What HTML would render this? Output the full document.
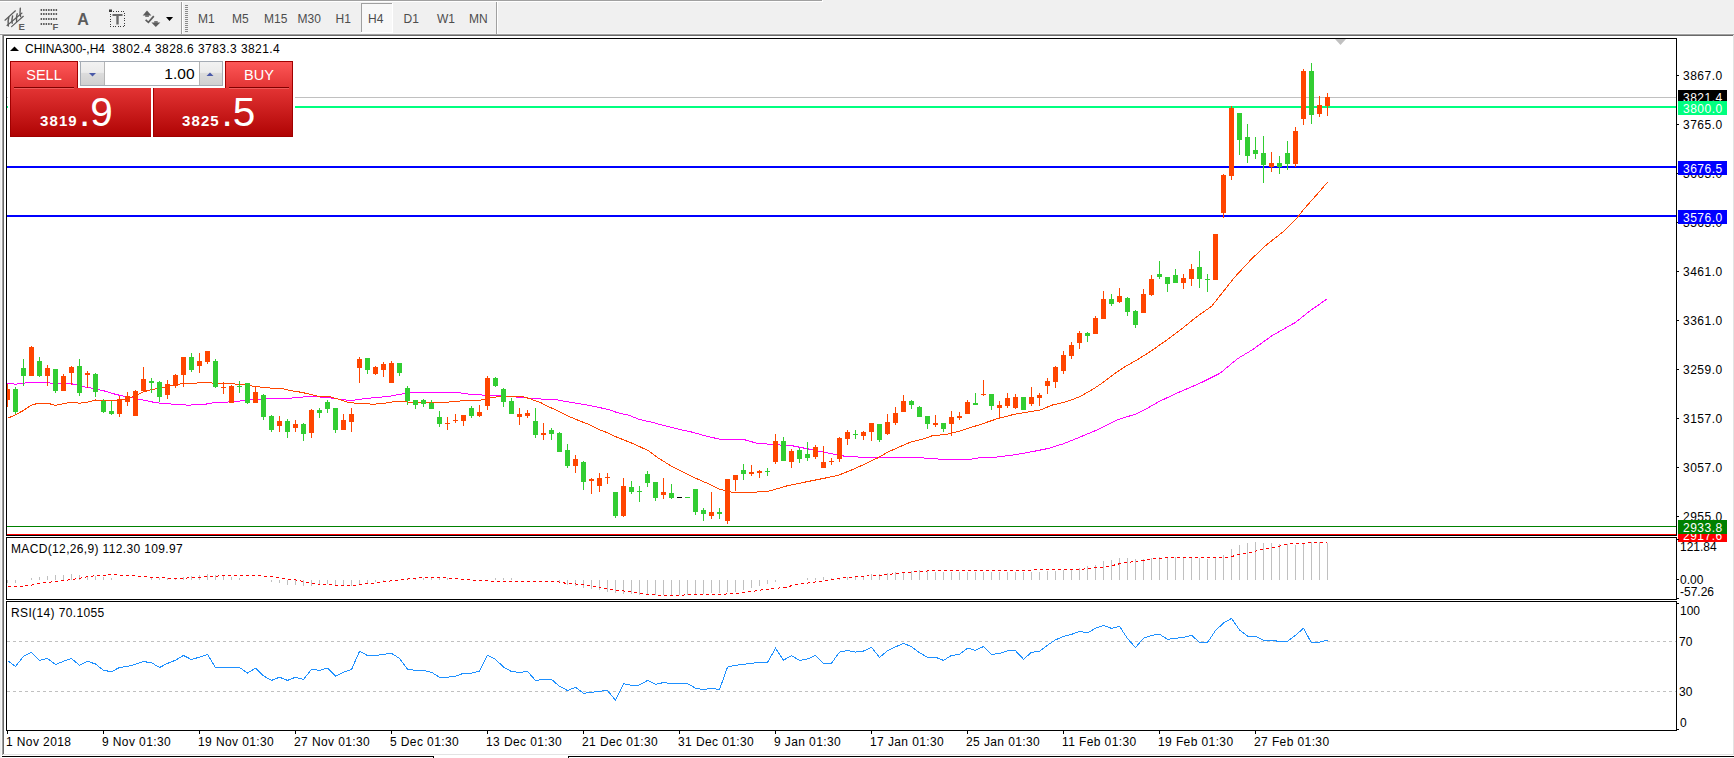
<!DOCTYPE html>
<html><head><meta charset="utf-8"><title>CHINA300 H4</title>
<style>html,body{margin:0;padding:0;width:1734px;height:758px;overflow:hidden;background:#f0f0f0;font-family:"Liberation Sans",sans-serif;}</style>
</head><body>
<svg width="1734" height="758" viewBox="0 0 1734 758" style="display:block"><rect x="0" y="0" width="1734" height="34" fill="#f0f0f0" />
<rect x="0" y="0" width="822" height="1" fill="#a0a0a0" />
<rect x="0" y="1" width="823" height="1" fill="#ffffff" />
<rect x="822" y="0" width="1" height="1" fill="#ffffff" />
<rect x="0" y="33" width="1734" height="1" fill="#f7f7f7" />
<rect x="0" y="34" width="1734" height="1" fill="#a0a0a0" />
<rect x="2" y="35" width="1731" height="1" fill="#696969" />
<rect x="181" y="2" width="1" height="32" fill="#a0a0a0" />
<rect x="182" y="2" width="1" height="32" fill="#ffffff" />
<rect x="496" y="2" width="1" height="32" fill="#a0a0a0" />
<rect x="497" y="2" width="1" height="32" fill="#ffffff" />
<rect x="185" y="5" width="3" height="1" fill="#8a8a8a" />
<rect x="185" y="7" width="3" height="1" fill="#8a8a8a" />
<rect x="185" y="9" width="3" height="1" fill="#8a8a8a" />
<rect x="185" y="11" width="3" height="1" fill="#8a8a8a" />
<rect x="185" y="13" width="3" height="1" fill="#8a8a8a" />
<rect x="185" y="15" width="3" height="1" fill="#8a8a8a" />
<rect x="185" y="17" width="3" height="1" fill="#8a8a8a" />
<rect x="185" y="19" width="3" height="1" fill="#8a8a8a" />
<rect x="185" y="21" width="3" height="1" fill="#8a8a8a" />
<rect x="185" y="23" width="3" height="1" fill="#8a8a8a" />
<rect x="185" y="25" width="3" height="1" fill="#8a8a8a" />
<rect x="185" y="27" width="3" height="1" fill="#8a8a8a" />
<rect x="185" y="29" width="3" height="1" fill="#8a8a8a" />
<rect x="185" y="31" width="3" height="1" fill="#8a8a8a" />
<rect x="361" y="3" width="31" height="29" fill="#f8f8f8" />
<rect x="361" y="3" width="31" height="1" fill="#a0a0a0" />
<rect x="361" y="3" width="1" height="29" fill="#a0a0a0" />
<rect x="392" y="3" width="1" height="30" fill="#ffffff" />
<rect x="361" y="32" width="32" height="1" fill="#ffffff" />
<text x="198" y="23" font-family="Liberation Sans, sans-serif" font-size="12" fill="#4d4d4d">M1</text>
<text x="232" y="23" font-family="Liberation Sans, sans-serif" font-size="12" fill="#4d4d4d">M5</text>
<text x="264" y="23" font-family="Liberation Sans, sans-serif" font-size="12" fill="#4d4d4d">M15</text>
<text x="297.5" y="23" font-family="Liberation Sans, sans-serif" font-size="12" fill="#4d4d4d">M30</text>
<text x="335.5" y="23" font-family="Liberation Sans, sans-serif" font-size="12" fill="#4d4d4d">H1</text>
<text x="368" y="23" font-family="Liberation Sans, sans-serif" font-size="12" fill="#4d4d4d">H4</text>
<text x="403.5" y="23" font-family="Liberation Sans, sans-serif" font-size="12" fill="#4d4d4d">D1</text>
<text x="437" y="23" font-family="Liberation Sans, sans-serif" font-size="12" fill="#4d4d4d">W1</text>
<text x="469" y="23" font-family="Liberation Sans, sans-serif" font-size="12" fill="#4d4d4d">MN</text>
<g stroke="#5c5c5c" fill="none" shape-rendering="auto" stroke-linecap="round"><path d="M5 20.2 L15.4 10.8" stroke-width="1.2"/><path d="M11.6 26.6 L23.3 16.3" stroke-width="1.2"/><path d="M7 25.5 L22 13" stroke-width="1.1"/><path d="M8.8 17.2 Q7.6 21 8.3 26" stroke-width="1.4"/><path d="M12.6 16 Q11.5 20 12.2 23.2" stroke-width="1.4"/><path d="M17.2 13.8 Q16 17 16.6 21.5" stroke-width="1.4"/><path d="M20.3 8.3 Q19.6 13 20.6 16.6" stroke-width="1.4"/></g>
<text x="18.6" y="29.8" font-family="Liberation Sans, sans-serif" font-size="9.5" font-weight="bold" fill="#5c5c5c">E</text>
<rect x="40.6" y="9" width="1.5" height="2" fill="#5a5a5a"/>
<rect x="43.1" y="9" width="1.5" height="2" fill="#5a5a5a"/>
<rect x="45.6" y="9" width="1.5" height="2" fill="#5a5a5a"/>
<rect x="48.1" y="9" width="1.5" height="2" fill="#5a5a5a"/>
<rect x="50.6" y="9" width="1.5" height="2" fill="#5a5a5a"/>
<rect x="53.1" y="9" width="1.5" height="2" fill="#5a5a5a"/>
<rect x="55.6" y="9" width="1.5" height="2" fill="#5a5a5a"/>
<rect x="40.6" y="13" width="1.5" height="2" fill="#5a5a5a"/>
<rect x="43.1" y="13" width="1.5" height="2" fill="#5a5a5a"/>
<rect x="45.6" y="13" width="1.5" height="2" fill="#5a5a5a"/>
<rect x="48.1" y="13" width="1.5" height="2" fill="#5a5a5a"/>
<rect x="50.6" y="13" width="1.5" height="2" fill="#5a5a5a"/>
<rect x="53.1" y="13" width="1.5" height="2" fill="#5a5a5a"/>
<rect x="55.6" y="13" width="1.5" height="2" fill="#5a5a5a"/>
<rect x="40.6" y="18" width="1.5" height="2" fill="#5a5a5a"/>
<rect x="43.1" y="18" width="1.5" height="2" fill="#5a5a5a"/>
<rect x="45.6" y="18" width="1.5" height="2" fill="#5a5a5a"/>
<rect x="48.1" y="18" width="1.5" height="2" fill="#5a5a5a"/>
<rect x="50.6" y="18" width="1.5" height="2" fill="#5a5a5a"/>
<rect x="53.1" y="18" width="1.5" height="2" fill="#5a5a5a"/>
<rect x="55.6" y="18" width="1.5" height="2" fill="#5a5a5a"/>
<rect x="40.6" y="23" width="1.5" height="2" fill="#5a5a5a"/>
<rect x="43.1" y="23" width="1.5" height="2" fill="#5a5a5a"/>
<rect x="45.6" y="23" width="1.5" height="2" fill="#5a5a5a"/>
<rect x="48.1" y="23" width="1.5" height="2" fill="#5a5a5a"/>
<rect x="50.6" y="23" width="1.5" height="2" fill="#5a5a5a"/>
<text x="52.6" y="29.8" font-family="Liberation Sans, sans-serif" font-size="9.5" font-weight="bold" fill="#5c5c5c">F</text>
<text x="77.3" y="25" font-family="Liberation Sans, sans-serif" font-size="16" font-weight="bold" fill="#5c5c5c">A</text>
<rect x="110.5" y="11.5" width="14" height="15" fill="none" stroke="#3a3a3a" stroke-dasharray="1 1.5" shape-rendering="crispEdges"/>
<rect x="109" y="9.5" width="3" height="2.5" fill="#3a3a3a"/>
<rect x="112.5" y="14" width="10" height="2" fill="#6a6a6a"/>
<rect x="116.3" y="15.5" width="2.4" height="9" fill="#6a6a6a"/>
<path d="M142.7 15.5 L147 10.4 L151.4 15.5 Z" fill="#5c5c5c"/><rect x="145.2" y="15.3" width="3.7" height="1.5" fill="#5c5c5c"/>
<path d="M151.4 22.5 L160.3 22.5 L155.8 26.9 Z" fill="#5c5c5c"/><rect x="154.2" y="21.2" width="3.5" height="1.5" fill="#5c5c5c"/>
<path d="M145.6 19.9 L148.4 22.4 L153.8 16.1" stroke="#5c5c5c" stroke-width="1.7" fill="none"/>
<path d="M166 17.1 L173.1 17.1 L169.5 20.9 Z" fill="#000"/>
<rect x="0" y="35" width="1734" height="723" fill="#f0f0f0" />
<rect x="2" y="35" width="1731" height="1" fill="#696969" />
<rect x="1" y="35" width="1" height="723" fill="#f9f9f9" />
<rect x="2" y="34" width="1" height="721" fill="#a0a0a0" />
<rect x="3" y="35" width="1" height="719" fill="#696969" />
<rect x="4" y="36" width="1729" height="718" fill="#ffffff" />
<rect x="1733" y="35" width="1" height="720" fill="#e3e3e3" />
<rect x="3" y="754" width="1731" height="1" fill="#e3e3e3" />
<rect x="2" y="755" width="1732" height="3" fill="#ffffff" />
<rect x="2" y="756" width="432" height="1" fill="#000000" />
<rect x="433" y="756" width="1" height="2" fill="#000000" />
<rect x="568" y="756" width="1166" height="1" fill="#000000" />
<rect x="568" y="756" width="1" height="2" fill="#000000" />
<rect x="6" y="38" width="1671" height="1" fill="#000" />
<rect x="6" y="535" width="1671" height="1" fill="#000" />
<rect x="6" y="38" width="1" height="498" fill="#000" />
<rect x="1676" y="38" width="1" height="498" fill="#000" />
<rect x="6" y="537" width="1671" height="1" fill="#000" />
<rect x="6" y="599" width="1671" height="1" fill="#000" />
<rect x="6" y="537" width="1" height="63" fill="#000" />
<rect x="1676" y="537" width="1" height="63" fill="#000" />
<rect x="6" y="601" width="1671" height="1" fill="#000" />
<rect x="6" y="730" width="1671" height="1" fill="#000" />
<rect x="6" y="601" width="1" height="130" fill="#000" />
<rect x="1676" y="601" width="1" height="130" fill="#000" />
<rect x="7" y="97" width="1669" height="1" fill="#c0c0c0" />
<rect x="7" y="106" width="1669" height="2" fill="#00ff7f" />
<rect x="7" y="166" width="1669" height="2" fill="#0000ff" />
<rect x="7" y="215" width="1669" height="2" fill="#0000ff" />
<rect x="7" y="526" width="1669" height="1" fill="#008000" />
<rect x="7" y="534" width="1669" height="1" fill="#ff0000" />
<path d="M1335 39 L1346 39 L1340.5 45 Z" fill="#c0c0c0"/>
<g shape-rendering="crispEdges">
<polyline points="7.5,383.3 15.5,384.2 23.5,383.3 29.5,382.3 43.5,382.6 55.5,383.3 72.5,384.0 79.5,385.6 87.0,387.4 95.5,388.8 104.5,391.0 115.5,394.3 124.5,396.4 133.1,397.9 144.5,400.3 156.2,402.8 166.5,403.7 187.5,405.1 202.5,404.7 213.5,402.8 231.5,401.8 240.5,401.0 252.0,399.3 275.1,398.8 291.0,398.1 309.5,396.4 327.0,397.4 341.5,399.6 351.5,400.6 363.0,398.8 377.5,397.4 389.0,396.3 399.1,394.5 407.5,393.1 420.5,392.4 456.5,392.4 471.2,394.5 485.5,395.2 500.2,395.9 516.9,397.1 541.2,399.0 556.3,399.7 565.5,401.4 577.5,403.5 589.7,405.5 609.5,409.7 617.0,412.6 629.2,415.3 639.8,419.6 651.9,422.2 662.5,425.2 677.7,429.0 692.9,432.3 708.0,436.6 723.2,439.9 730.5,439.2 745.5,440.0 756.0,443.0 772.5,444.5 793.5,446.0 808.5,449.0 826.5,452.7 844.5,456.2 861.0,457.2 880.5,457.2 923.9,458.0 940.5,459.2 970.5,459.2 979.5,457.7 993.5,457.4 1013.5,454.9 1030.0,452.1 1048.1,448.5 1063.0,443.9 1079.5,437.3 1099.2,429.0 1119.0,419.2 1135.5,414.2 1145.5,409.3 1158.5,401.8 1178.5,392.4 1199.8,383.3 1220.1,373.2 1237.5,358.7 1252.0,350.0 1272.3,335.5 1295.5,322.4 1310.1,310.8 1327.5,298.6" fill="none" stroke="#ff00ff" stroke-width="1" />
<polyline points="7.5,418.4 15.5,414.8 23.5,410.4 31.5,405.1 38.5,403.2 47.5,403.2 55.5,405.4 63.5,403.6 71.5,402.2 79.5,403.2 87.5,402.2 95.5,400.0 103.5,400.8 111.5,401.0 120.0,399.6 128.0,398.9 136.0,395.3 144.0,391.7 152.0,389.5 160.0,388.0 168.0,386.6 176.0,384.5 183.5,383.5 192.5,383.5 203.5,382.3 211.5,383.0 219.5,383.5 231.5,383.8 240.5,384.4 256.5,386.6 269.5,388.0 282.5,388.5 290.5,390.6 299.5,392.0 308.5,393.8 318.5,396.4 329.5,396.7 340.0,399.6 350.1,402.9 361.5,403.2 373.1,404.3 384.5,403.2 396.2,401.4 407.5,402.0 420.5,402.5 442.5,402.5 452.5,401.7 468.5,400.3 480.5,400.2 489.5,397.9 500.2,396.4 521.5,396.4 529.0,398.4 541.2,402.9 550.3,407.5 560.9,412.3 570.0,416.9 579.1,420.7 589.7,424.8 600.3,430.2 607.9,432.8 617.0,437.3 626.1,440.8 635.2,444.5 648.9,451.0 658.0,457.8 670.1,465.4 682.3,471.5 694.4,477.6 708.0,483.6 720.2,489.7 726.3,490.4 732.3,492.4 754.5,492.2 769.5,491.0 787.5,485.7 805.5,482.0 828.0,477.5 838.5,475.2 853.5,469.2 865.5,463.7 877.5,458.0 887.9,452.0 899.9,446.7 910.5,442.2 922.5,439.2 932.9,435.5 944.9,434.7 959.9,431.0 976.5,425.7 980.5,424.4 997.0,418.8 1013.5,414.5 1030.0,411.7 1039.9,410.1 1053.1,404.8 1064.5,402.3 1079.5,396.9 1092.5,389.5 1102.5,382.9 1115.5,373.0 1125.5,366.4 1137.2,359.8 1150.5,351.4 1165.0,341.3 1182.5,328.2 1196.9,316.6 1211.5,306.4 1223.0,291.9 1234.5,277.4 1252.0,258.5 1266.5,244.9 1284.0,231.0 1297.0,217.9 1304.0,209.0 1312.0,200.0 1320.0,191.0 1327.5,182.2" fill="none" stroke="#ff4500" stroke-width="1" />
</g>
<g shape-rendering="crispEdges">
<rect x="7" y="384" width="1" height="23" fill="#ff4500" />
<rect x="7" y="389" width="3" height="11" fill="#ff4500" />
<rect x="15" y="387" width="1" height="27" fill="#32cd32" />
<rect x="13" y="389" width="5" height="23" fill="#32cd32" />
<rect x="23" y="359" width="1" height="27" fill="#32cd32" />
<rect x="21" y="368" width="5" height="8" fill="#32cd32" />
<rect x="31" y="346" width="1" height="30" fill="#ff4500" />
<rect x="29" y="347" width="5" height="29" fill="#ff4500" />
<rect x="39" y="357" width="1" height="20" fill="#32cd32" />
<rect x="37" y="361" width="5" height="15" fill="#32cd32" />
<rect x="47" y="365" width="1" height="21" fill="#ff4500" />
<rect x="45" y="368" width="5" height="8" fill="#ff4500" />
<rect x="55" y="369" width="1" height="24" fill="#32cd32" />
<rect x="53" y="369" width="5" height="22" fill="#32cd32" />
<rect x="63" y="374" width="1" height="17" fill="#ff4500" />
<rect x="61" y="376" width="5" height="15" fill="#ff4500" />
<rect x="71" y="366" width="1" height="19" fill="#ff4500" />
<rect x="69" y="367" width="5" height="6" fill="#ff4500" />
<rect x="79" y="359" width="1" height="37" fill="#32cd32" />
<rect x="77" y="366" width="5" height="27" fill="#32cd32" />
<rect x="87" y="371" width="1" height="17" fill="#ff4500" />
<rect x="85" y="373" width="5" height="2" fill="#ff4500" />
<rect x="95" y="373" width="1" height="24" fill="#32cd32" />
<rect x="93" y="374" width="5" height="18" fill="#32cd32" />
<rect x="103" y="399" width="1" height="14" fill="#32cd32" />
<rect x="101" y="401" width="5" height="11" fill="#32cd32" />
<rect x="111" y="401" width="1" height="14" fill="#32cd32" />
<rect x="109" y="411" width="5" height="3" fill="#32cd32" />
<rect x="119" y="396" width="1" height="21" fill="#ff4500" />
<rect x="117" y="400" width="5" height="14" fill="#ff4500" />
<rect x="127" y="392" width="1" height="14" fill="#ff4500" />
<rect x="125" y="396" width="5" height="6" fill="#ff4500" />
<rect x="135" y="390" width="1" height="26" fill="#ff4500" />
<rect x="133" y="391" width="5" height="25" fill="#ff4500" />
<rect x="143" y="367" width="1" height="24" fill="#ff4500" />
<rect x="141" y="379" width="5" height="12" fill="#ff4500" />
<rect x="151" y="378" width="1" height="15" fill="#32cd32" />
<rect x="149" y="381" width="5" height="2" fill="#32cd32" />
<rect x="159" y="381" width="1" height="21" fill="#32cd32" />
<rect x="157" y="382" width="5" height="15" fill="#32cd32" />
<rect x="167" y="380" width="1" height="19" fill="#ff4500" />
<rect x="165" y="384" width="5" height="11" fill="#ff4500" />
<rect x="175" y="374" width="1" height="14" fill="#ff4500" />
<rect x="173" y="375" width="5" height="11" fill="#ff4500" />
<rect x="183" y="357" width="1" height="30" fill="#ff4500" />
<rect x="181" y="357" width="5" height="18" fill="#ff4500" />
<rect x="191" y="353" width="1" height="19" fill="#32cd32" />
<rect x="189" y="357" width="5" height="13" fill="#32cd32" />
<rect x="199" y="353" width="1" height="20" fill="#ff4500" />
<rect x="197" y="361" width="5" height="5" fill="#ff4500" />
<rect x="207" y="351" width="1" height="13" fill="#ff4500" />
<rect x="205" y="351" width="5" height="11" fill="#ff4500" />
<rect x="215" y="359" width="1" height="29" fill="#32cd32" />
<rect x="213" y="361" width="5" height="26" fill="#32cd32" />
<rect x="223" y="382" width="1" height="12" fill="#ff4500" />
<rect x="221" y="387" width="5" height="1" fill="#ff4500" />
<rect x="231" y="385" width="1" height="18" fill="#ff4500" />
<rect x="229" y="386" width="5" height="17" fill="#ff4500" />
<rect x="239" y="381" width="1" height="12" fill="#32cd32" />
<rect x="237" y="386" width="5" height="1" fill="#32cd32" />
<rect x="247" y="383" width="1" height="21" fill="#32cd32" />
<rect x="245" y="383" width="5" height="20" fill="#32cd32" />
<rect x="255" y="386" width="1" height="17" fill="#ff4500" />
<rect x="253" y="392" width="5" height="11" fill="#ff4500" />
<rect x="263" y="394" width="1" height="26" fill="#32cd32" />
<rect x="261" y="395" width="5" height="22" fill="#32cd32" />
<rect x="271" y="415" width="1" height="17" fill="#32cd32" />
<rect x="269" y="416" width="5" height="14" fill="#32cd32" />
<rect x="279" y="416" width="1" height="16" fill="#ff4500" />
<rect x="277" y="421" width="5" height="5" fill="#ff4500" />
<rect x="287" y="419" width="1" height="19" fill="#32cd32" />
<rect x="285" y="421" width="5" height="11" fill="#32cd32" />
<rect x="295" y="420" width="1" height="12" fill="#ff4500" />
<rect x="293" y="424" width="5" height="4" fill="#ff4500" />
<rect x="303" y="423" width="1" height="18" fill="#32cd32" />
<rect x="301" y="424" width="5" height="10" fill="#32cd32" />
<rect x="311" y="409" width="1" height="29" fill="#ff4500" />
<rect x="309" y="410" width="5" height="23" fill="#ff4500" />
<rect x="319" y="408" width="1" height="10" fill="#32cd32" />
<rect x="317" y="410" width="5" height="3" fill="#32cd32" />
<rect x="327" y="400" width="1" height="13" fill="#32cd32" />
<rect x="325" y="402" width="5" height="7" fill="#32cd32" />
<rect x="335" y="408" width="1" height="25" fill="#32cd32" />
<rect x="333" y="408" width="5" height="22" fill="#32cd32" />
<rect x="343" y="414" width="1" height="16" fill="#ff4500" />
<rect x="341" y="420" width="5" height="10" fill="#ff4500" />
<rect x="351" y="408" width="1" height="24" fill="#ff4500" />
<rect x="349" y="414" width="5" height="8" fill="#ff4500" />
<rect x="359" y="357" width="1" height="26" fill="#ff4500" />
<rect x="357" y="359" width="5" height="9" fill="#ff4500" />
<rect x="367" y="358" width="1" height="16" fill="#32cd32" />
<rect x="365" y="358" width="5" height="12" fill="#32cd32" />
<rect x="375" y="366" width="1" height="9" fill="#ff4500" />
<rect x="373" y="367" width="5" height="7" fill="#ff4500" />
<rect x="383" y="362" width="1" height="15" fill="#ff4500" />
<rect x="381" y="364" width="5" height="6" fill="#ff4500" />
<rect x="391" y="361" width="1" height="22" fill="#ff4500" />
<rect x="389" y="363" width="5" height="20" fill="#ff4500" />
<rect x="399" y="363" width="1" height="13" fill="#32cd32" />
<rect x="397" y="363" width="5" height="10" fill="#32cd32" />
<rect x="407" y="386" width="1" height="19" fill="#32cd32" />
<rect x="405" y="388" width="5" height="13" fill="#32cd32" />
<rect x="415" y="400" width="1" height="9" fill="#32cd32" />
<rect x="413" y="400" width="5" height="5" fill="#32cd32" />
<rect x="423" y="399" width="1" height="8" fill="#32cd32" />
<rect x="421" y="400" width="5" height="4" fill="#32cd32" />
<rect x="431" y="400" width="1" height="9" fill="#32cd32" />
<rect x="429" y="403" width="5" height="6" fill="#32cd32" />
<rect x="439" y="411" width="1" height="16" fill="#32cd32" />
<rect x="437" y="417" width="5" height="7" fill="#32cd32" />
<rect x="447" y="417" width="1" height="13" fill="#ff4500" />
<rect x="445" y="423" width="5" height="1" fill="#ff4500" />
<rect x="455" y="414" width="1" height="9" fill="#ff4500" />
<rect x="453" y="420" width="5" height="1" fill="#ff4500" />
<rect x="463" y="415" width="1" height="11" fill="#ff4500" />
<rect x="461" y="415" width="5" height="6" fill="#ff4500" />
<rect x="471" y="406" width="1" height="12" fill="#32cd32" />
<rect x="469" y="408" width="5" height="8" fill="#32cd32" />
<rect x="479" y="405" width="1" height="12" fill="#ff4500" />
<rect x="477" y="412" width="5" height="4" fill="#ff4500" />
<rect x="487" y="376" width="1" height="34" fill="#ff4500" />
<rect x="485" y="378" width="5" height="28" fill="#ff4500" />
<rect x="495" y="377" width="1" height="10" fill="#32cd32" />
<rect x="493" y="378" width="5" height="8" fill="#32cd32" />
<rect x="503" y="388" width="1" height="19" fill="#32cd32" />
<rect x="501" y="389" width="5" height="13" fill="#32cd32" />
<rect x="511" y="398" width="1" height="16" fill="#32cd32" />
<rect x="509" y="401" width="5" height="13" fill="#32cd32" />
<rect x="519" y="408" width="1" height="17" fill="#ff4500" />
<rect x="517" y="414" width="5" height="3" fill="#ff4500" />
<rect x="527" y="410" width="1" height="8" fill="#ff4500" />
<rect x="525" y="413" width="5" height="3" fill="#ff4500" />
<rect x="535" y="408" width="1" height="30" fill="#32cd32" />
<rect x="533" y="421" width="5" height="14" fill="#32cd32" />
<rect x="543" y="423" width="1" height="17" fill="#ff4500" />
<rect x="541" y="433" width="5" height="2" fill="#ff4500" />
<rect x="551" y="428" width="1" height="12" fill="#32cd32" />
<rect x="549" y="430" width="5" height="4" fill="#32cd32" />
<rect x="559" y="432" width="1" height="20" fill="#32cd32" />
<rect x="557" y="433" width="5" height="19" fill="#32cd32" />
<rect x="567" y="444" width="1" height="24" fill="#32cd32" />
<rect x="565" y="450" width="5" height="16" fill="#32cd32" />
<rect x="575" y="455" width="1" height="18" fill="#ff4500" />
<rect x="573" y="459" width="5" height="7" fill="#ff4500" />
<rect x="583" y="461" width="1" height="29" fill="#32cd32" />
<rect x="581" y="462" width="5" height="20" fill="#32cd32" />
<rect x="591" y="478" width="1" height="16" fill="#ff4500" />
<rect x="589" y="479" width="5" height="2" fill="#ff4500" />
<rect x="599" y="473" width="1" height="19" fill="#ff4500" />
<rect x="597" y="478" width="5" height="8" fill="#ff4500" />
<rect x="607" y="473" width="1" height="11" fill="#ff4500" />
<rect x="605" y="477" width="5" height="1" fill="#ff4500" />
<rect x="615" y="492" width="1" height="26" fill="#32cd32" />
<rect x="613" y="492" width="5" height="24" fill="#32cd32" />
<rect x="623" y="478" width="1" height="39" fill="#ff4500" />
<rect x="621" y="486" width="5" height="30" fill="#ff4500" />
<rect x="631" y="481" width="1" height="13" fill="#32cd32" />
<rect x="629" y="487" width="5" height="5" fill="#32cd32" />
<rect x="639" y="486" width="1" height="16" fill="#32cd32" />
<rect x="637" y="491" width="5" height="1" fill="#32cd32" />
<rect x="647" y="471" width="1" height="16" fill="#32cd32" />
<rect x="645" y="474" width="5" height="9" fill="#32cd32" />
<rect x="655" y="482" width="1" height="19" fill="#32cd32" />
<rect x="653" y="482" width="5" height="16" fill="#32cd32" />
<rect x="663" y="478" width="1" height="21" fill="#ff4500" />
<rect x="661" y="492" width="5" height="3" fill="#ff4500" />
<rect x="671" y="484" width="1" height="15" fill="#32cd32" />
<rect x="669" y="493" width="5" height="5" fill="#32cd32" />
<rect x="679" y="497" width="1" height="1" fill="#000000" />
<rect x="677" y="497" width="5" height="1" fill="#000000" />
<rect x="687" y="497" width="1" height="1" fill="#32cd32" />
<rect x="685" y="497" width="5" height="1" fill="#32cd32" />
<rect x="695" y="489" width="1" height="26" fill="#32cd32" />
<rect x="693" y="489" width="5" height="23" fill="#32cd32" />
<rect x="703" y="508" width="1" height="13" fill="#32cd32" />
<rect x="701" y="510" width="5" height="4" fill="#32cd32" />
<rect x="711" y="492" width="1" height="27" fill="#ff4500" />
<rect x="709" y="512" width="5" height="4" fill="#ff4500" />
<rect x="719" y="508" width="1" height="11" fill="#32cd32" />
<rect x="717" y="512" width="5" height="2" fill="#32cd32" />
<rect x="727" y="479" width="1" height="45" fill="#ff4500" />
<rect x="725" y="479" width="5" height="42" fill="#ff4500" />
<rect x="735" y="475" width="1" height="16" fill="#ff4500" />
<rect x="733" y="475" width="5" height="5" fill="#ff4500" />
<rect x="743" y="464" width="1" height="16" fill="#32cd32" />
<rect x="741" y="470" width="5" height="4" fill="#32cd32" />
<rect x="751" y="465" width="1" height="11" fill="#ff4500" />
<rect x="749" y="472" width="5" height="2" fill="#ff4500" />
<rect x="759" y="470" width="1" height="8" fill="#ff4500" />
<rect x="757" y="471" width="5" height="2" fill="#ff4500" />
<rect x="767" y="468" width="1" height="8" fill="#32cd32" />
<rect x="765" y="471" width="5" height="1" fill="#32cd32" />
<rect x="775" y="434" width="1" height="30" fill="#ff4500" />
<rect x="773" y="441" width="5" height="21" fill="#ff4500" />
<rect x="783" y="437" width="1" height="24" fill="#32cd32" />
<rect x="781" y="441" width="5" height="20" fill="#32cd32" />
<rect x="791" y="449" width="1" height="19" fill="#ff4500" />
<rect x="789" y="451" width="5" height="11" fill="#ff4500" />
<rect x="799" y="448" width="1" height="15" fill="#32cd32" />
<rect x="797" y="450" width="5" height="9" fill="#32cd32" />
<rect x="807" y="442" width="1" height="19" fill="#32cd32" />
<rect x="805" y="454" width="5" height="4" fill="#32cd32" />
<rect x="815" y="445" width="1" height="14" fill="#ff4500" />
<rect x="813" y="447" width="5" height="10" fill="#ff4500" />
<rect x="823" y="446" width="1" height="22" fill="#ff4500" />
<rect x="821" y="462" width="5" height="6" fill="#ff4500" />
<rect x="831" y="458" width="1" height="7" fill="#ff4500" />
<rect x="829" y="461" width="5" height="1" fill="#ff4500" />
<rect x="839" y="437" width="1" height="25" fill="#ff4500" />
<rect x="837" y="438" width="5" height="21" fill="#ff4500" />
<rect x="847" y="430" width="1" height="15" fill="#ff4500" />
<rect x="845" y="432" width="5" height="7" fill="#ff4500" />
<rect x="855" y="430" width="1" height="9" fill="#32cd32" />
<rect x="853" y="434" width="5" height="1" fill="#32cd32" />
<rect x="863" y="431" width="1" height="9" fill="#ff4500" />
<rect x="861" y="432" width="5" height="4" fill="#ff4500" />
<rect x="871" y="423" width="1" height="18" fill="#ff4500" />
<rect x="869" y="423" width="5" height="9" fill="#ff4500" />
<rect x="879" y="424" width="1" height="18" fill="#32cd32" />
<rect x="877" y="424" width="5" height="16" fill="#32cd32" />
<rect x="887" y="414" width="1" height="21" fill="#ff4500" />
<rect x="885" y="422" width="5" height="12" fill="#ff4500" />
<rect x="895" y="407" width="1" height="18" fill="#ff4500" />
<rect x="893" y="413" width="5" height="10" fill="#ff4500" />
<rect x="903" y="395" width="1" height="17" fill="#ff4500" />
<rect x="901" y="401" width="5" height="11" fill="#ff4500" />
<rect x="911" y="400" width="1" height="9" fill="#32cd32" />
<rect x="909" y="401" width="5" height="4" fill="#32cd32" />
<rect x="919" y="406" width="1" height="11" fill="#32cd32" />
<rect x="917" y="407" width="5" height="10" fill="#32cd32" />
<rect x="927" y="416" width="1" height="13" fill="#32cd32" />
<rect x="925" y="416" width="5" height="8" fill="#32cd32" />
<rect x="935" y="415" width="1" height="12" fill="#ff4500" />
<rect x="933" y="423" width="5" height="2" fill="#ff4500" />
<rect x="943" y="423" width="1" height="9" fill="#32cd32" />
<rect x="941" y="423" width="5" height="6" fill="#32cd32" />
<rect x="951" y="411" width="1" height="25" fill="#ff4500" />
<rect x="949" y="417" width="5" height="7" fill="#ff4500" />
<rect x="959" y="412" width="1" height="8" fill="#ff4500" />
<rect x="957" y="416" width="5" height="2" fill="#ff4500" />
<rect x="967" y="400" width="1" height="14" fill="#ff4500" />
<rect x="965" y="402" width="5" height="12" fill="#ff4500" />
<rect x="975" y="393" width="1" height="12" fill="#32cd32" />
<rect x="973" y="403" width="5" height="2" fill="#32cd32" />
<rect x="983" y="380" width="1" height="16" fill="#ff4500" />
<rect x="981" y="394" width="5" height="1" fill="#ff4500" />
<rect x="991" y="394" width="1" height="16" fill="#32cd32" />
<rect x="989" y="394" width="5" height="12" fill="#32cd32" />
<rect x="999" y="401" width="1" height="18" fill="#ff4500" />
<rect x="997" y="405" width="5" height="3" fill="#ff4500" />
<rect x="1007" y="393" width="1" height="15" fill="#ff4500" />
<rect x="1005" y="398" width="5" height="8" fill="#ff4500" />
<rect x="1015" y="394" width="1" height="15" fill="#ff4500" />
<rect x="1013" y="397" width="5" height="11" fill="#ff4500" />
<rect x="1023" y="397" width="1" height="13" fill="#32cd32" />
<rect x="1021" y="397" width="5" height="13" fill="#32cd32" />
<rect x="1031" y="387" width="1" height="19" fill="#ff4500" />
<rect x="1029" y="397" width="5" height="7" fill="#ff4500" />
<rect x="1039" y="393" width="1" height="13" fill="#ff4500" />
<rect x="1037" y="395" width="5" height="3" fill="#ff4500" />
<rect x="1047" y="378" width="1" height="16" fill="#ff4500" />
<rect x="1045" y="381" width="5" height="5" fill="#ff4500" />
<rect x="1055" y="366" width="1" height="22" fill="#ff4500" />
<rect x="1053" y="367" width="5" height="15" fill="#ff4500" />
<rect x="1063" y="351" width="1" height="23" fill="#ff4500" />
<rect x="1061" y="355" width="5" height="16" fill="#ff4500" />
<rect x="1071" y="342" width="1" height="17" fill="#ff4500" />
<rect x="1069" y="345" width="5" height="11" fill="#ff4500" />
<rect x="1079" y="331" width="1" height="18" fill="#ff4500" />
<rect x="1077" y="333" width="5" height="10" fill="#ff4500" />
<rect x="1087" y="332" width="1" height="10" fill="#32cd32" />
<rect x="1085" y="333" width="5" height="3" fill="#32cd32" />
<rect x="1095" y="316" width="1" height="18" fill="#ff4500" />
<rect x="1093" y="318" width="5" height="16" fill="#ff4500" />
<rect x="1103" y="291" width="1" height="28" fill="#ff4500" />
<rect x="1101" y="299" width="5" height="20" fill="#ff4500" />
<rect x="1111" y="294" width="1" height="12" fill="#32cd32" />
<rect x="1109" y="299" width="5" height="5" fill="#32cd32" />
<rect x="1119" y="288" width="1" height="15" fill="#ff4500" />
<rect x="1117" y="296" width="5" height="6" fill="#ff4500" />
<rect x="1127" y="297" width="1" height="19" fill="#32cd32" />
<rect x="1125" y="298" width="5" height="14" fill="#32cd32" />
<rect x="1135" y="310" width="1" height="18" fill="#32cd32" />
<rect x="1133" y="311" width="5" height="14" fill="#32cd32" />
<rect x="1143" y="289" width="1" height="24" fill="#ff4500" />
<rect x="1141" y="294" width="5" height="19" fill="#ff4500" />
<rect x="1151" y="275" width="1" height="21" fill="#ff4500" />
<rect x="1149" y="279" width="5" height="16" fill="#ff4500" />
<rect x="1159" y="261" width="1" height="18" fill="#32cd32" />
<rect x="1157" y="274" width="5" height="3" fill="#32cd32" />
<rect x="1167" y="277" width="1" height="15" fill="#32cd32" />
<rect x="1165" y="277" width="5" height="7" fill="#32cd32" />
<rect x="1175" y="269" width="1" height="14" fill="#32cd32" />
<rect x="1173" y="275" width="5" height="8" fill="#32cd32" />
<rect x="1183" y="274" width="1" height="15" fill="#ff4500" />
<rect x="1181" y="278" width="5" height="5" fill="#ff4500" />
<rect x="1191" y="264" width="1" height="22" fill="#ff4500" />
<rect x="1189" y="269" width="5" height="10" fill="#ff4500" />
<rect x="1199" y="251" width="1" height="37" fill="#32cd32" />
<rect x="1197" y="267" width="5" height="12" fill="#32cd32" />
<rect x="1207" y="274" width="1" height="18" fill="#32cd32" />
<rect x="1205" y="279" width="5" height="1" fill="#32cd32" />
<rect x="1215" y="234" width="1" height="46" fill="#ff4500" />
<rect x="1213" y="234" width="5" height="46" fill="#ff4500" />
<rect x="1223" y="174" width="1" height="44" fill="#ff4500" />
<rect x="1221" y="175" width="5" height="38" fill="#ff4500" />
<rect x="1231" y="106" width="1" height="74" fill="#ff4500" />
<rect x="1229" y="108" width="5" height="68" fill="#ff4500" />
<rect x="1239" y="113" width="1" height="42" fill="#32cd32" />
<rect x="1237" y="113" width="5" height="27" fill="#32cd32" />
<rect x="1247" y="124" width="1" height="39" fill="#32cd32" />
<rect x="1245" y="137" width="5" height="19" fill="#32cd32" />
<rect x="1255" y="137" width="1" height="22" fill="#32cd32" />
<rect x="1253" y="150" width="5" height="4" fill="#32cd32" />
<rect x="1263" y="136" width="1" height="47" fill="#32cd32" />
<rect x="1261" y="153" width="5" height="12" fill="#32cd32" />
<rect x="1271" y="152" width="1" height="20" fill="#ff4500" />
<rect x="1269" y="163" width="5" height="4" fill="#ff4500" />
<rect x="1279" y="156" width="1" height="18" fill="#32cd32" />
<rect x="1277" y="163" width="5" height="4" fill="#32cd32" />
<rect x="1287" y="141" width="1" height="29" fill="#32cd32" />
<rect x="1285" y="153" width="5" height="11" fill="#32cd32" />
<rect x="1295" y="127" width="1" height="40" fill="#ff4500" />
<rect x="1293" y="131" width="5" height="33" fill="#ff4500" />
<rect x="1303" y="69" width="1" height="56" fill="#ff4500" />
<rect x="1301" y="71" width="5" height="48" fill="#ff4500" />
<rect x="1311" y="63" width="1" height="61" fill="#32cd32" />
<rect x="1309" y="71" width="5" height="44" fill="#32cd32" />
<rect x="1319" y="96" width="1" height="21" fill="#ff4500" />
<rect x="1317" y="105" width="5" height="9" fill="#ff4500" />
<rect x="1327" y="93" width="1" height="23" fill="#ff4500" />
<rect x="1325" y="97" width="5" height="9" fill="#ff4500" />
</g>
<rect x="1677" y="75" width="2" height="1" fill="#000" />
<text x="1683" y="80" font-family="Liberation Sans, sans-serif" font-size="12" fill="#000" letter-spacing="0.5">3867.0</text>
<rect x="1677" y="124" width="2" height="1" fill="#000" />
<text x="1683" y="129" font-family="Liberation Sans, sans-serif" font-size="12" fill="#000" letter-spacing="0.5">3765.0</text>
<rect x="1677" y="173" width="2" height="1" fill="#000" />
<text x="1683" y="178" font-family="Liberation Sans, sans-serif" font-size="12" fill="#000" letter-spacing="0.5">3663.0</text>
<rect x="1677" y="222" width="2" height="1" fill="#000" />
<text x="1683" y="227" font-family="Liberation Sans, sans-serif" font-size="12" fill="#000" letter-spacing="0.5">3563.0</text>
<rect x="1677" y="271" width="2" height="1" fill="#000" />
<text x="1683" y="276" font-family="Liberation Sans, sans-serif" font-size="12" fill="#000" letter-spacing="0.5">3461.0</text>
<rect x="1677" y="320" width="2" height="1" fill="#000" />
<text x="1683" y="325" font-family="Liberation Sans, sans-serif" font-size="12" fill="#000" letter-spacing="0.5">3361.0</text>
<rect x="1677" y="369" width="2" height="1" fill="#000" />
<text x="1683" y="374" font-family="Liberation Sans, sans-serif" font-size="12" fill="#000" letter-spacing="0.5">3259.0</text>
<rect x="1677" y="418" width="2" height="1" fill="#000" />
<text x="1683" y="423" font-family="Liberation Sans, sans-serif" font-size="12" fill="#000" letter-spacing="0.5">3157.0</text>
<rect x="1677" y="467" width="2" height="1" fill="#000" />
<text x="1683" y="472" font-family="Liberation Sans, sans-serif" font-size="12" fill="#000" letter-spacing="0.5">3057.0</text>
<rect x="1677" y="516" width="2" height="1" fill="#000" />
<text x="1683" y="521" font-family="Liberation Sans, sans-serif" font-size="12" fill="#000" letter-spacing="0.5">2955.0</text>
<rect x="1678" y="90" width="49" height="14" fill="#000000" />
<text x="1683" y="101.5" font-family="Liberation Sans, sans-serif" font-size="12" fill="#fff" letter-spacing="0.5">3821.4</text>
<rect x="1678" y="101" width="49" height="14" fill="#00ff7f" />
<text x="1683" y="112.5" font-family="Liberation Sans, sans-serif" font-size="12" fill="#fff" letter-spacing="0.5">3800.0</text>
<rect x="1678" y="161" width="49" height="14" fill="#0000ff" />
<text x="1683" y="172.5" font-family="Liberation Sans, sans-serif" font-size="12" fill="#fff" letter-spacing="0.5">3676.5</text>
<rect x="1678" y="210" width="49" height="14" fill="#0000ff" />
<text x="1683" y="221.5" font-family="Liberation Sans, sans-serif" font-size="12" fill="#fff" letter-spacing="0.5">3576.0</text>
<rect x="1678" y="528" width="49" height="14" fill="#ff0000" />
<text x="1683" y="539.5" font-family="Liberation Sans, sans-serif" font-size="12" fill="#fff" letter-spacing="0.5">2917.6</text>
<rect x="1678" y="520" width="49" height="14" fill="#008000" />
<text x="1683" y="531.5" font-family="Liberation Sans, sans-serif" font-size="12" fill="#fff" letter-spacing="0.5">2933.8</text>
<path d="M10 51 L14.5 46.5 L19 51 Z" fill="#000"/>
<text x="25" y="53.3" font-family="Liberation Sans, sans-serif" font-size="12" fill="#000">CHINA300-,H4</text>
<text x="112" y="53.3" font-family="Liberation Sans, sans-serif" font-size="12" fill="#000" letter-spacing="0.42">3802.4 3828.6 3783.3 3821.4</text>
<text x="11" y="553" font-family="Liberation Sans, sans-serif" font-size="12" fill="#000" letter-spacing="0.35">MACD(12,26,9) 112.30 109.97</text>
<rect x="1677" y="539" width="2" height="1" fill="#000" />
<rect x="1677" y="579" width="2" height="1" fill="#000" />
<rect x="1677" y="598" width="2" height="1" fill="#000" />
<text x="1680" y="551" font-family="Liberation Sans, sans-serif" font-size="12" fill="#000">121.84</text>
<text x="1680" y="583.5" font-family="Liberation Sans, sans-serif" font-size="12" fill="#000">0.00</text>
<text x="1680" y="596" font-family="Liberation Sans, sans-serif" font-size="12" fill="#000">-57.26</text>
<g shape-rendering="crispEdges">
<rect x="7" y="580" width="1" height="3" fill="#c0c0c0" />
<rect x="15" y="580" width="1" height="3" fill="#c0c0c0" />
<rect x="31" y="578" width="1" height="2" fill="#c0c0c0" />
<rect x="39" y="577" width="1" height="3" fill="#c0c0c0" />
<rect x="47" y="576" width="1" height="4" fill="#c0c0c0" />
<rect x="55" y="575" width="1" height="5" fill="#c0c0c0" />
<rect x="63" y="575" width="1" height="5" fill="#c0c0c0" />
<rect x="71" y="574" width="1" height="6" fill="#c0c0c0" />
<rect x="79" y="575" width="1" height="5" fill="#c0c0c0" />
<rect x="87" y="576" width="1" height="4" fill="#c0c0c0" />
<rect x="95" y="576" width="1" height="4" fill="#c0c0c0" />
<rect x="103" y="577" width="1" height="3" fill="#c0c0c0" />
<rect x="111" y="578" width="1" height="2" fill="#c0c0c0" />
<rect x="151" y="578" width="1" height="2" fill="#c0c0c0" />
<rect x="159" y="578" width="1" height="2" fill="#c0c0c0" />
<rect x="167" y="578" width="1" height="2" fill="#c0c0c0" />
<rect x="175" y="578" width="1" height="2" fill="#c0c0c0" />
<rect x="183" y="577" width="1" height="3" fill="#c0c0c0" />
<rect x="191" y="576" width="1" height="4" fill="#c0c0c0" />
<rect x="199" y="575" width="1" height="5" fill="#c0c0c0" />
<rect x="207" y="574" width="1" height="6" fill="#c0c0c0" />
<rect x="215" y="575" width="1" height="5" fill="#c0c0c0" />
<rect x="223" y="575" width="1" height="5" fill="#c0c0c0" />
<rect x="231" y="577" width="1" height="3" fill="#c0c0c0" />
<rect x="239" y="578" width="1" height="2" fill="#c0c0c0" />
<rect x="271" y="580" width="1" height="2" fill="#c0c0c0" />
<rect x="279" y="580" width="1" height="3" fill="#c0c0c0" />
<rect x="287" y="580" width="1" height="5" fill="#c0c0c0" />
<rect x="295" y="580" width="1" height="5" fill="#c0c0c0" />
<rect x="303" y="580" width="1" height="6" fill="#c0c0c0" />
<rect x="311" y="580" width="1" height="6" fill="#c0c0c0" />
<rect x="319" y="580" width="1" height="5" fill="#c0c0c0" />
<rect x="327" y="580" width="1" height="4" fill="#c0c0c0" />
<rect x="335" y="580" width="1" height="6" fill="#c0c0c0" />
<rect x="343" y="580" width="1" height="6" fill="#c0c0c0" />
<rect x="351" y="580" width="1" height="6" fill="#c0c0c0" />
<rect x="359" y="580" width="1" height="5" fill="#c0c0c0" />
<rect x="367" y="580" width="1" height="3" fill="#c0c0c0" />
<rect x="375" y="580" width="1" height="2" fill="#c0c0c0" />
<rect x="383" y="580" width="1" height="1" fill="#c0c0c0" />
<rect x="407" y="578" width="1" height="2" fill="#c0c0c0" />
<rect x="415" y="578" width="1" height="2" fill="#c0c0c0" />
<rect x="423" y="578" width="1" height="2" fill="#c0c0c0" />
<rect x="431" y="578" width="1" height="2" fill="#c0c0c0" />
<rect x="439" y="578" width="1" height="2" fill="#c0c0c0" />
<rect x="447" y="578" width="1" height="2" fill="#c0c0c0" />
<rect x="495" y="578" width="1" height="2" fill="#c0c0c0" />
<rect x="503" y="578" width="1" height="2" fill="#c0c0c0" />
<rect x="511" y="578" width="1" height="2" fill="#c0c0c0" />
<rect x="559" y="580" width="1" height="3" fill="#c0c0c0" />
<rect x="567" y="580" width="1" height="5" fill="#c0c0c0" />
<rect x="575" y="580" width="1" height="6" fill="#c0c0c0" />
<rect x="583" y="580" width="1" height="8" fill="#c0c0c0" />
<rect x="591" y="580" width="1" height="9" fill="#c0c0c0" />
<rect x="599" y="580" width="1" height="10" fill="#c0c0c0" />
<rect x="607" y="580" width="1" height="12" fill="#c0c0c0" />
<rect x="615" y="580" width="1" height="13" fill="#c0c0c0" />
<rect x="623" y="580" width="1" height="14" fill="#c0c0c0" />
<rect x="631" y="580" width="1" height="14" fill="#c0c0c0" />
<rect x="639" y="580" width="1" height="15" fill="#c0c0c0" />
<rect x="647" y="580" width="1" height="15" fill="#c0c0c0" />
<rect x="655" y="580" width="1" height="15" fill="#c0c0c0" />
<rect x="663" y="580" width="1" height="15" fill="#c0c0c0" />
<rect x="671" y="580" width="1" height="15" fill="#c0c0c0" />
<rect x="679" y="580" width="1" height="15" fill="#c0c0c0" />
<rect x="687" y="580" width="1" height="15" fill="#c0c0c0" />
<rect x="695" y="580" width="1" height="15" fill="#c0c0c0" />
<rect x="703" y="580" width="1" height="14" fill="#c0c0c0" />
<rect x="711" y="580" width="1" height="13" fill="#c0c0c0" />
<rect x="719" y="580" width="1" height="13" fill="#c0c0c0" />
<rect x="727" y="580" width="1" height="12" fill="#c0c0c0" />
<rect x="735" y="580" width="1" height="12" fill="#c0c0c0" />
<rect x="743" y="580" width="1" height="10" fill="#c0c0c0" />
<rect x="751" y="580" width="1" height="8" fill="#c0c0c0" />
<rect x="759" y="580" width="1" height="6" fill="#c0c0c0" />
<rect x="767" y="580" width="1" height="4" fill="#c0c0c0" />
<rect x="775" y="580" width="1" height="2" fill="#c0c0c0" />
<rect x="807" y="578" width="1" height="2" fill="#c0c0c0" />
<rect x="815" y="578" width="1" height="2" fill="#c0c0c0" />
<rect x="823" y="577" width="1" height="3" fill="#c0c0c0" />
<rect x="831" y="578" width="1" height="2" fill="#c0c0c0" />
<rect x="839" y="578" width="1" height="2" fill="#c0c0c0" />
<rect x="847" y="577" width="1" height="3" fill="#c0c0c0" />
<rect x="855" y="576" width="1" height="4" fill="#c0c0c0" />
<rect x="863" y="576" width="1" height="4" fill="#c0c0c0" />
<rect x="871" y="574" width="1" height="6" fill="#c0c0c0" />
<rect x="879" y="574" width="1" height="6" fill="#c0c0c0" />
<rect x="887" y="573" width="1" height="7" fill="#c0c0c0" />
<rect x="895" y="572" width="1" height="8" fill="#c0c0c0" />
<rect x="903" y="572" width="1" height="8" fill="#c0c0c0" />
<rect x="911" y="571" width="1" height="9" fill="#c0c0c0" />
<rect x="919" y="570" width="1" height="10" fill="#c0c0c0" />
<rect x="927" y="571" width="1" height="9" fill="#c0c0c0" />
<rect x="935" y="572" width="1" height="8" fill="#c0c0c0" />
<rect x="943" y="572" width="1" height="8" fill="#c0c0c0" />
<rect x="951" y="572" width="1" height="8" fill="#c0c0c0" />
<rect x="959" y="572" width="1" height="8" fill="#c0c0c0" />
<rect x="967" y="572" width="1" height="8" fill="#c0c0c0" />
<rect x="975" y="572" width="1" height="8" fill="#c0c0c0" />
<rect x="983" y="572" width="1" height="8" fill="#c0c0c0" />
<rect x="991" y="572" width="1" height="8" fill="#c0c0c0" />
<rect x="999" y="572" width="1" height="8" fill="#c0c0c0" />
<rect x="1007" y="572" width="1" height="8" fill="#c0c0c0" />
<rect x="1015" y="572" width="1" height="8" fill="#c0c0c0" />
<rect x="1023" y="572" width="1" height="8" fill="#c0c0c0" />
<rect x="1031" y="572" width="1" height="8" fill="#c0c0c0" />
<rect x="1039" y="572" width="1" height="8" fill="#c0c0c0" />
<rect x="1047" y="571" width="1" height="9" fill="#c0c0c0" />
<rect x="1055" y="571" width="1" height="9" fill="#c0c0c0" />
<rect x="1063" y="570" width="1" height="10" fill="#c0c0c0" />
<rect x="1071" y="569" width="1" height="11" fill="#c0c0c0" />
<rect x="1079" y="568" width="1" height="12" fill="#c0c0c0" />
<rect x="1087" y="566" width="1" height="14" fill="#c0c0c0" />
<rect x="1095" y="565" width="1" height="15" fill="#c0c0c0" />
<rect x="1103" y="561" width="1" height="19" fill="#c0c0c0" />
<rect x="1111" y="560" width="1" height="20" fill="#c0c0c0" />
<rect x="1119" y="558" width="1" height="22" fill="#c0c0c0" />
<rect x="1127" y="558" width="1" height="22" fill="#c0c0c0" />
<rect x="1135" y="559" width="1" height="21" fill="#c0c0c0" />
<rect x="1143" y="559" width="1" height="21" fill="#c0c0c0" />
<rect x="1151" y="558" width="1" height="22" fill="#c0c0c0" />
<rect x="1159" y="557" width="1" height="23" fill="#c0c0c0" />
<rect x="1167" y="558" width="1" height="22" fill="#c0c0c0" />
<rect x="1175" y="557" width="1" height="23" fill="#c0c0c0" />
<rect x="1183" y="557" width="1" height="23" fill="#c0c0c0" />
<rect x="1191" y="558" width="1" height="22" fill="#c0c0c0" />
<rect x="1199" y="558" width="1" height="22" fill="#c0c0c0" />
<rect x="1207" y="559" width="1" height="21" fill="#c0c0c0" />
<rect x="1215" y="557" width="1" height="23" fill="#c0c0c0" />
<rect x="1223" y="555" width="1" height="25" fill="#c0c0c0" />
<rect x="1231" y="549" width="1" height="31" fill="#c0c0c0" />
<rect x="1239" y="545" width="1" height="35" fill="#c0c0c0" />
<rect x="1247" y="543" width="1" height="37" fill="#c0c0c0" />
<rect x="1255" y="542" width="1" height="38" fill="#c0c0c0" />
<rect x="1263" y="543" width="1" height="37" fill="#c0c0c0" />
<rect x="1271" y="543" width="1" height="37" fill="#c0c0c0" />
<rect x="1279" y="544" width="1" height="36" fill="#c0c0c0" />
<rect x="1287" y="544" width="1" height="36" fill="#c0c0c0" />
<rect x="1295" y="545" width="1" height="35" fill="#c0c0c0" />
<rect x="1303" y="543" width="1" height="37" fill="#c0c0c0" />
<rect x="1311" y="542" width="1" height="38" fill="#c0c0c0" />
<rect x="1319" y="542" width="1" height="38" fill="#c0c0c0" />
<rect x="1327" y="543" width="1" height="37" fill="#c0c0c0" />
<polyline points="7.5,586.4 23.5,586.4 27.5,585.6 31.5,585.1 35.5,583.6 39.5,583.3 47.5,582.5 55.5,581.5 63.5,580.5 71.5,579.7 79.5,578.2 87.5,576.8 95.5,575.6 103.5,575.3 111.5,574.3 119.5,575.3 127.5,575.3 135.5,576.0 143.5,576.6 151.5,577.3 159.5,577.5 170.5,578.6 184.0,578.2 199.5,577.3 215.5,576.3 225.2,575.3 248.5,575.3 266.5,576.3 278.1,577.6 288.0,579.2 297.5,580.2 307.5,582.5 321.3,584.5 337.0,585.1 356.5,585.1 364.5,584.1 376.2,582.7 388.0,581.2 405.5,579.2 419.5,578.0 444.5,577.6 454.5,578.6 466.5,579.6 478.1,580.6 493.5,581.2 555.2,581.2 565.0,583.1 574.8,583.9 584.5,585.1 596.5,586.5 608.1,589.0 623.8,591.0 639.5,593.3 657.2,595.3 676.8,595.3 696.5,594.5 721.9,594.3 735.5,593.3 745.5,592.4 765.0,589.4 784.5,587.5 796.5,584.5 814.0,582.2 830.5,579.6 840.1,578.2 859.5,576.3 879.5,575.3 898.9,573.3 914.5,571.8 930.3,570.8 957.5,570.4 1075.5,569.8 1098.9,567.5 1100.5,567.7 1113.0,565.4 1121.3,563.3 1129.5,562.3 1136.5,561.2 1146.2,559.8 1155.9,558.5 1169.5,557.5 1225.1,557.5 1233.5,556.0 1238.9,554.6 1252.7,552.5 1259.7,549.5 1273.5,547.8 1280.5,546.0 1287.4,544.2 1301.2,543.2 1315.0,542.5 1327.5,542.3" fill="none" stroke="#ff0000" stroke-width="1" stroke-dasharray="3 3"/>
</g>
<text x="11" y="617" font-family="Liberation Sans, sans-serif" font-size="12" fill="#000" letter-spacing="0.37">RSI(14) 70.1055</text>
<g shape-rendering="crispEdges">
<line x1="7" y1="641.5" x2="1676" y2="641.5" stroke="#c0c0c0" stroke-dasharray="3 3"/>
<line x1="7" y1="691.5" x2="1676" y2="691.5" stroke="#c0c0c0" stroke-dasharray="3 3"/>
<polyline points="7.5,660.6 15.5,666.5 23.5,656.4 31.5,652.3 39.5,660.3 47.5,658.5 55.5,664.5 63.5,661.3 71.5,658.5 79.5,665.4 87.5,661.3 95.5,664.0 103.5,670.3 111.5,671.7 119.5,667.5 127.5,666.4 135.5,664.3 143.5,661.6 151.5,662.7 159.5,667.5 167.5,663.4 175.5,660.2 183.5,655.5 191.5,659.6 199.5,657.1 207.5,654.4 215.5,667.5 223.5,667.5 231.5,667.5 239.5,667.5 247.5,673.0 255.5,668.2 263.5,675.8 271.5,680.4 279.5,677.2 287.5,680.4 295.5,677.2 303.5,679.5 311.5,669.3 319.5,670.3 327.5,668.2 335.5,676.2 343.5,672.3 351.5,669.6 359.5,651.3 367.5,655.5 375.5,655.5 383.5,654.4 391.5,653.3 399.5,658.5 407.5,669.3 415.5,670.3 423.5,670.3 431.5,672.3 439.5,677.2 447.5,677.2 455.5,676.2 463.5,673.3 471.5,673.2 479.5,671.1 487.5,655.2 495.5,659.4 503.5,667.0 511.5,671.5 519.5,672.5 527.5,671.5 535.5,680.4 543.5,679.4 551.5,679.4 559.5,686.3 567.5,690.5 575.5,687.3 583.5,693.3 591.5,692.3 599.5,691.2 607.5,690.5 615.5,700.2 623.5,683.6 631.5,685.4 639.5,685.0 647.5,680.4 655.5,684.3 663.5,682.6 671.5,683.6 679.5,683.6 687.5,683.6 695.5,688.2 703.5,689.5 711.5,688.4 719.5,689.5 727.5,667.1 735.5,665.3 743.5,664.3 751.5,663.2 759.5,662.5 767.5,662.5 775.5,648.3 783.5,660.2 791.5,655.6 799.5,660.4 807.5,659.0 815.5,655.3 823.5,663.2 831.5,663.2 839.5,652.1 847.5,650.5 855.5,652.1 863.5,651.0 871.5,647.3 879.5,657.4 887.5,650.7 895.5,646.9 903.5,643.4 911.5,646.6 919.5,652.8 927.5,657.3 935.5,657.2 943.5,660.4 951.5,655.4 959.5,654.4 967.5,648.2 975.5,650.3 983.5,646.5 991.5,654.4 999.5,653.5 1007.5,650.7 1015.5,650.7 1023.5,659.3 1031.5,652.3 1039.5,651.2 1047.5,645.2 1055.5,639.9 1063.5,636.4 1071.5,634.4 1079.5,631.3 1087.5,633.0 1095.5,628.1 1103.5,625.4 1111.5,628.4 1119.5,626.3 1127.5,638.5 1135.5,647.5 1143.5,638.3 1151.5,635.4 1159.5,634.2 1167.5,639.3 1175.5,638.2 1183.5,637.5 1191.5,635.2 1199.5,642.4 1207.5,642.4 1215.5,630.6 1223.5,623.0 1231.5,618.4 1239.5,629.9 1247.5,636.1 1255.5,636.1 1263.5,640.3 1271.5,640.7 1279.5,641.2 1287.5,641.2 1295.5,635.4 1303.5,628.2 1311.5,643.0 1319.5,642.1 1327.5,640.3" fill="none" stroke="#1e90ff" stroke-width="1"/>
</g>
<rect x="1677" y="603" width="2" height="1" fill="#000" />
<rect x="1677" y="729" width="2" height="1" fill="#000" />
<text x="1680" y="615" font-family="Liberation Sans, sans-serif" font-size="12" fill="#000">100</text>
<text x="1679" y="645.5" font-family="Liberation Sans, sans-serif" font-size="12" fill="#000">70</text>
<text x="1679" y="696" font-family="Liberation Sans, sans-serif" font-size="12" fill="#000">30</text>
<text x="1680" y="727" font-family="Liberation Sans, sans-serif" font-size="12" fill="#000">0</text>
<rect x="7" y="731" width="1" height="3" fill="#000" />
<text x="6" y="746" font-family="Liberation Sans, sans-serif" font-size="12" fill="#000" letter-spacing="0.4">1 Nov 2018</text>
<rect x="103" y="731" width="1" height="3" fill="#000" />
<text x="102" y="746" font-family="Liberation Sans, sans-serif" font-size="12" fill="#000" letter-spacing="0.4">9 Nov 01:30</text>
<rect x="199" y="731" width="1" height="3" fill="#000" />
<text x="198" y="746" font-family="Liberation Sans, sans-serif" font-size="12" fill="#000" letter-spacing="0.4">19 Nov 01:30</text>
<rect x="295" y="731" width="1" height="3" fill="#000" />
<text x="294" y="746" font-family="Liberation Sans, sans-serif" font-size="12" fill="#000" letter-spacing="0.4">27 Nov 01:30</text>
<rect x="391" y="731" width="1" height="3" fill="#000" />
<text x="390" y="746" font-family="Liberation Sans, sans-serif" font-size="12" fill="#000" letter-spacing="0.4">5 Dec 01:30</text>
<rect x="487" y="731" width="1" height="3" fill="#000" />
<text x="486" y="746" font-family="Liberation Sans, sans-serif" font-size="12" fill="#000" letter-spacing="0.4">13 Dec 01:30</text>
<rect x="583" y="731" width="1" height="3" fill="#000" />
<text x="582" y="746" font-family="Liberation Sans, sans-serif" font-size="12" fill="#000" letter-spacing="0.4">21 Dec 01:30</text>
<rect x="679" y="731" width="1" height="3" fill="#000" />
<text x="678" y="746" font-family="Liberation Sans, sans-serif" font-size="12" fill="#000" letter-spacing="0.4">31 Dec 01:30</text>
<rect x="775" y="731" width="1" height="3" fill="#000" />
<text x="774" y="746" font-family="Liberation Sans, sans-serif" font-size="12" fill="#000" letter-spacing="0.4">9 Jan 01:30</text>
<rect x="871" y="731" width="1" height="3" fill="#000" />
<text x="870" y="746" font-family="Liberation Sans, sans-serif" font-size="12" fill="#000" letter-spacing="0.4">17 Jan 01:30</text>
<rect x="967" y="731" width="1" height="3" fill="#000" />
<text x="966" y="746" font-family="Liberation Sans, sans-serif" font-size="12" fill="#000" letter-spacing="0.4">25 Jan 01:30</text>
<rect x="1063" y="731" width="1" height="3" fill="#000" />
<text x="1062" y="746" font-family="Liberation Sans, sans-serif" font-size="12" fill="#000" letter-spacing="0.4">11 Feb 01:30</text>
<rect x="1159" y="731" width="1" height="3" fill="#000" />
<text x="1158" y="746" font-family="Liberation Sans, sans-serif" font-size="12" fill="#000" letter-spacing="0.4">19 Feb 01:30</text>
<rect x="1255" y="731" width="1" height="3" fill="#000" />
<text x="1254" y="746" font-family="Liberation Sans, sans-serif" font-size="12" fill="#000" letter-spacing="0.4">27 Feb 01:30</text>
<defs><linearGradient id="gt" x1="0" y1="0" x2="0" y2="1"><stop offset="0" stop-color="#fd5757"/><stop offset="1" stop-color="#e13232"/></linearGradient><linearGradient id="gb" x1="0" y1="0" x2="0" y2="1"><stop offset="0" stop-color="#e33434"/><stop offset="1" stop-color="#b00404"/></linearGradient><linearGradient id="gbtn" x1="0" y1="0" x2="0" y2="1"><stop offset="0" stop-color="#f2f2f2"/><stop offset="0.45" stop-color="#ebebeb"/><stop offset="0.5" stop-color="#dcdcdc"/><stop offset="1" stop-color="#d0d0d0"/></linearGradient></defs>
<rect x="8" y="59" width="287" height="80" fill="#ffffff" />
<rect x="10" y="61" width="68" height="28" fill="#a00000" />
<rect x="11" y="62" width="66" height="27" fill="url(#gt)" />
<rect x="10" y="88" width="142" height="49" fill="#a00000" />
<rect x="11" y="88" width="140" height="48" fill="url(#gb)" />
<rect x="11" y="88" width="66" height="1" fill="#e03232" />
<rect x="14" y="87" width="60" height="1" fill="#800000" />
<rect x="14" y="88" width="60" height="1" fill="#f05a5a" />
<rect x="225" y="61" width="68" height="28" fill="#a00000" />
<rect x="226" y="62" width="66" height="27" fill="url(#gt)" />
<rect x="153" y="88" width="140" height="49" fill="#a00000" />
<rect x="154" y="88" width="138" height="48" fill="url(#gb)" />
<rect x="226" y="88" width="66" height="1" fill="#e03232" />
<rect x="229" y="87" width="60" height="1" fill="#800000" />
<rect x="229" y="88" width="60" height="1" fill="#f05a5a" />
<rect x="151" y="88" width="2" height="49" fill="#ffffff" />
<rect x="79" y="61" width="144" height="27" fill="#ffffff" />
<rect x="79" y="61" width="144" height="1" fill="#a5acb5" />
<rect x="79" y="87" width="144" height="1" fill="#ffffff" />
<rect x="80" y="61" width="1" height="25" fill="#a5acb5" />
<rect x="222" y="61" width="1" height="25" fill="#a5acb5" />
<rect x="80" y="85" width="143" height="1" fill="#a5acb5" />
<rect x="81" y="62" width="24" height="23" fill="url(#gbtn)" />
<rect x="104" y="62" width="1" height="23" fill="#b5b5b5" />
<rect x="199" y="62" width="23" height="23" fill="url(#gbtn)" />
<rect x="199" y="62" width="1" height="23" fill="#b5b5b5" />
<path d="M89 73 L96 73 L92.5 76.5 Z" fill="#4a5aa8"/>
<path d="M206.5 76 L213.5 76 L210 72.5 Z" fill="#4a5aa8"/>
<text x="194.5" y="79" font-family="Liberation Sans, sans-serif" font-size="15.5" fill="#000" text-anchor="end">1.00</text>
<text x="44" y="80" font-family="Liberation Sans, sans-serif" font-size="14.5" fill="#fff" text-anchor="middle">SELL</text>
<text x="259" y="80" font-family="Liberation Sans, sans-serif" font-size="14.5" fill="#fff" text-anchor="middle">BUY</text>
<text x="40" y="126" font-family="Liberation Sans, sans-serif" font-size="15" font-weight="bold" fill="#fff" letter-spacing="1.1">3819</text>
<text x="79" y="126" font-family="Liberation Sans, sans-serif" font-size="40.5" fill="#fff">.9</text>
<text x="182" y="126" font-family="Liberation Sans, sans-serif" font-size="15" font-weight="bold" fill="#fff" letter-spacing="1.1">3825</text>
<text x="221.5" y="126" font-family="Liberation Sans, sans-serif" font-size="40.5" fill="#fff">.5</text></svg>
</body></html>
